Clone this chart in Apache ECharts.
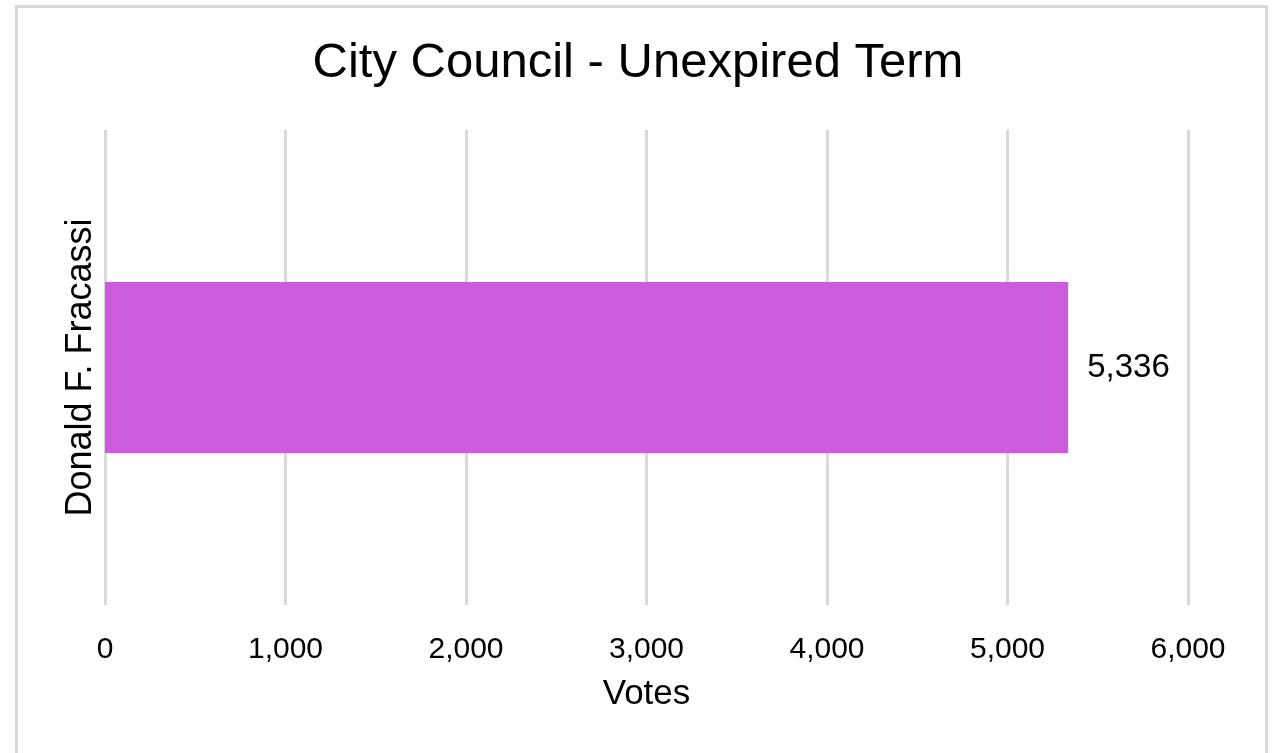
<!DOCTYPE html>
<html>
<head>
<meta charset="utf-8">
<script src="https://cdn.jsdelivr.net/npm/echarts@6/dist/echarts.min.js"></script>
<style>
  html, body { margin: 0; padding: 0; background: #fff; }
  .frame {
    position: absolute;
    left: 15px;
    top: 5px;
    width: 1247px;
    height: 800px;
    border: 3px solid #d9d9d9;
  }
  #chart {
    position: absolute;
    left: 0;
    top: 0;
    width: 1276px;
    height: 753px;
  }
</style>
</head>
<body>
<div class="frame"></div>
<div id="chart"></div>
<script>
const titleText = 'City Council - Unexpired Term'
const candidates = ['Donald F. Fracassi']
const votes = [5336]
const axisName = 'Votes'

const fontFamily = '"Liberation Sans", Arial, sans-serif'
const fmt = (v) => Number(v).toLocaleString('en-US')

const chart = echarts.init(document.getElementById('chart'))

const option = {
  backgroundColor: 'transparent',
  animation: false,
  title: {
    text: titleText,
    left: 'center',
    top: 34,
    textStyle: {
      fontFamily,
      fontSize: 49,
      fontWeight: 'normal',
      color: '#000'
    }
  },
  grid: {
    left: 105,
    right: 88,
    top: 130,
    bottom: 148,
    containLabel: false
  },
  xAxis: {
    type: 'value',
    min: 0,
    max: 6000,
    interval: 1000,
    name: axisName,
    nameLocation: 'middle',
    nameGap: 72,
    nameTextStyle: {
      fontFamily,
      fontSize: 35,
      color: '#000'
    },
    axisLine: { show: false },
    axisTick: { show: false },
    axisLabel: {
      margin: 30,
      fontFamily,
      fontSize: 30,
      color: '#000',
      formatter: fmt
    },
    splitLine: {
      show: true,
      lineStyle: { color: '#d9d9d9', width: 3 }
    }
  },
  yAxis: {
    type: 'category',
    data: candidates,
    axisLine: { show: false },
    axisTick: { show: false },
    axisLabel: {
      rotate: 90,
      margin: 6,
      fontFamily,
      fontSize: 36,
      color: '#000'
    },
    splitLine: { show: false }
  },
  series: [
    {
      name: axisName,
      type: 'bar',
      data: votes,
      barWidth: '36%',
      itemStyle: { color: '#cc5cdb' },
      label: {
        show: true,
        position: 'right',
        distance: 19,
        fontFamily,
        fontSize: 33,
        color: '#000',
        formatter: (p) => fmt(p.value)
      }
    }
  ]
}

chart.setOption(option)
</script>
</body>
</html>
